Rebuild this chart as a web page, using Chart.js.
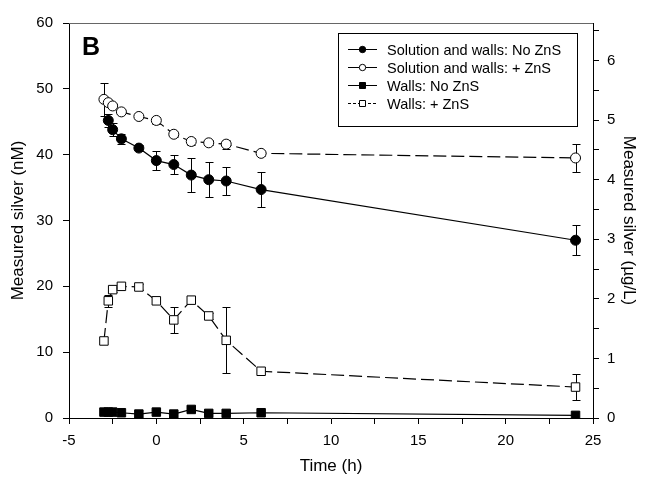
<!DOCTYPE html>
<html><head><meta charset="utf-8">
<script src="https://cdn.jsdelivr.net/npm/chart.js@4.4.1/dist/chart.umd.min.js"></script>
<style>html,body{margin:0;padding:0;background:#fff}#wrap{width:645px;height:483px}</style>
</head><body><div id="wrap"><canvas id="c" width="645" height="483"></canvas></div>
<script>
// ---- data ----
const seriesLabels = ['Solution and walls: No ZnS', 'Solution and walls: + ZnS', 'Walls: No ZnS', 'Walls: + ZnS'];

const timesSolNo = [-2.75, -2.5, -2, -1, 0, 1, 2, 3, 4, 6, 24];
const solNo      = [45.2, 43.8, 42.4, 41.0, 39.1, 38.5, 36.9, 36.2, 36.0, 34.7, 27.0];
const solNoErr   = [1.0, 1.0, 0.8, 0.5, 1.4, 1.5, 2.6, 2.7, 2.2, 2.7, 2.3];

const timesSolZnS = [-3, -2.75, -2.5, -2, -1, 0, 1, 2, 3, 4, 6, 24];
const solZnS      = [48.4, 47.9, 47.4, 46.5, 45.8, 45.2, 43.1, 42.0, 41.8, 41.6, 40.2, 39.5];
const solZnSErr   = [2.5, 0.4, 0.3, 0.3, 0.3, 0.5, 0.4, 0.6, 0.4, 0.7, 0.4, 2.1];

const timesWallsNo = [-3, -2.75, -2.5, -2, -1, 0, 1, 2, 3, 4, 6, 24];
const wallsNo      = [0.9, 0.9, 0.9, 0.8, 0.6, 0.9, 0.6, 1.3, 0.7, 0.7, 0.8, 0.4];

const timesWallsZnS = [-3, -2.75, -2.5, -2, -1, 0, 1, 2, 3, 4, 6, 24];
const wallsZnS      = [11.7, 17.8, 19.5, 20.0, 19.9, 17.8, 14.9, 17.9, 15.5, 11.8, 7.1, 4.7];
const wallsZnSErr   = [0, 0.9, 0.3, 0.2, 0.4, 0, 2.0, 0, 0.5, 5.0, 0, 2.0];

const xTicksMajor = [-5, 0, 5, 10, 15, 20, 25];
const yLeftTicks = [0, 10, 20, 30, 40, 50, 60];
const yRightTicks = [0, 1, 2, 3, 4, 5, 6];
const panelLetter = 'B';

// ---- helpers ----
const FONT = "'Liberation Sans', Arial, Helvetica, sans-serif";
const pts = (xs, ys) => xs.map((x, i) => ({x: x, y: ys[i]}));

const errorBars = {
  id: 'errorBars',
  beforeDatasetsDraw(chart) {
    const ctx = chart.ctx;
    const ys = chart.scales.y;
    ctx.save();
    ctx.strokeStyle = '#000';
    ctx.lineWidth = 1;
    chart.data.datasets.forEach((ds, di) => {
      if (!ds.errors) return;
      const meta = chart.getDatasetMeta(di);
      meta.data.forEach((el, i) => {
        const e = ds.errors[i];
        if (!e) return;
        const v = ds.data[i].y;
        const x = Math.round(el.x) + 0.5;
        const yt = Math.round(ys.getPixelForValue(v + e)) + 0.5;
        const yb = Math.round(ys.getPixelForValue(v - e)) + 0.5;
        ctx.beginPath();
        ctx.moveTo(x, yt); ctx.lineTo(x, yb);
        ctx.moveTo(x - 4, yt); ctx.lineTo(x + 4, yt);
        ctx.moveTo(x - 4, yb); ctx.lineTo(x + 4, yb);
        ctx.stroke();
      });
    });
    ctx.restore();
  }
};

const frameAndLegend = {
  id: 'frameAndLegend',
  afterDraw(chart) {
    const ctx = chart.ctx;
    const a = chart.chartArea;
    ctx.save();
    // top frame line
    ctx.strokeStyle = '#666';
    ctx.lineWidth = 1;
    ctx.beginPath();
    ctx.moveTo(a.left, Math.round(a.top) + 0.5); ctx.lineTo(a.right, Math.round(a.top) + 0.5);
    ctx.stroke();
    // panel letter
    ctx.fillStyle = '#000';
    ctx.font = "bold 25px " + FONT;
    ctx.textBaseline = 'middle';
    ctx.textAlign = 'left';
    ctx.fillText(panelLetter, 82, 48);
    // legend
    const bx = 338, by = 33, bw = 239, bh = 93;
    ctx.strokeStyle = '#000';
    ctx.lineWidth = 1;
    ctx.strokeRect(bx + 0.5, by + 0.5, bw, bh);
    ctx.font = "14.5px " + FONT;
    const rowY = [49.5, 67.5, 85.5, 103.5];
    chart.data.datasets.forEach((ds, i) => {
      const y = rowY[i];
      ctx.strokeStyle = '#000';
      ctx.lineWidth = 1;
      ctx.setLineDash(i === 3 ? [3, 2] : []);
      ctx.beginPath();
      ctx.moveTo(348, y); ctx.lineTo(377, y);
      ctx.stroke();
      ctx.setLineDash([]);
      ctx.fillStyle = ds.pointBackgroundColor;
      ctx.beginPath();
      if (ds.pointStyle === 'circle') {
        ctx.arc(362.5, y, 3.2, 0, Math.PI * 2);
      } else {
        ctx.rect(359.5, y - 3, 6, 6);
      }
      ctx.fill();
      ctx.stroke();
      ctx.fillStyle = '#000';
      ctx.fillText(ds.label, 387, y + 1);
    });
    ctx.restore();
  }
};

const tickFont = {family: FONT, size: 15};
const titleFont = {family: FONT, size: 17};

new Chart(document.getElementById('c'), {
  type: 'scatter',
  data: {
    datasets: [
      {label: seriesLabels[0], data: pts(timesSolNo, solNo), errors: solNoErr,
       showLine: true, borderColor: '#000', borderWidth: 1.2, pointStyle: 'circle', pointRadius: 5,
       pointBackgroundColor: '#000', pointBorderColor: '#000', pointBorderWidth: 1},
      {label: seriesLabels[1], data: pts(timesSolZnS, solZnS), errors: solZnSErr,
       showLine: true, borderColor: '#000', borderWidth: 1.2, borderDash: [13, 5], pointStyle: 'circle', pointRadius: 5,
       pointBackgroundColor: '#fff', pointBorderColor: '#000', pointBorderWidth: 1},
      {label: seriesLabels[2], data: pts(timesWallsNo, wallsNo),
       showLine: true, borderColor: '#000', borderWidth: 1.2, pointStyle: 'rect', pointRadius: 6,
       pointBackgroundColor: '#000', pointBorderColor: '#000', pointBorderWidth: 1},
      {label: seriesLabels[3], data: pts(timesWallsZnS, wallsZnS), errors: wallsZnSErr,
       showLine: true, borderColor: '#000', borderWidth: 1.2, borderDash: [13, 5], pointStyle: 'rect', pointRadius: 6,
       pointBackgroundColor: '#fff', pointBorderColor: '#000', pointBorderWidth: 1}
    ]
  },
  options: {
    responsive: false,
    animation: false,
    devicePixelRatio: 1,
    layout: {padding: {top: 23, left: 0, right: 0, bottom: 0}},
    plugins: {legend: {display: false}, tooltip: {enabled: false}},
    scales: {
      x: {
        type: 'linear', min: -5, max: 25,
        afterBuildTicks(s) {
          const t = [];
          for (let v = -5; v <= 25; v += 2.5) t.push({value: v});
          s.ticks = t;
        },
        ticks: {color: '#000', font: tickFont, padding: 8, maxRotation: 0, autoSkip: false,
          callback: v => xTicksMajor.includes(v) ? String(v) : ''},
        grid: {drawOnChartArea: false, drawTicks: true, tickLength: 6, tickColor: '#000'},
        border: {display: true, color: '#000', width: 1},
        title: {display: true, text: 'Time (h)', color: '#000', font: titleFont, padding: {top: 0, bottom: 6}},
        afterFit(s) { s.height = 65; }
      },
      y: {
        type: 'linear', position: 'left', min: 0, max: 60,
        afterBuildTicks(s) { s.ticks = yLeftTicks.map(v => ({value: v})); },
        ticks: {color: '#000', font: tickFont, padding: 10},
        grid: {drawOnChartArea: false, drawTicks: true, tickLength: 6, tickColor: '#000'},
        border: {display: true, color: '#000', width: 1},
        title: {display: true, text: 'Measured silver (nM)', color: '#000', font: titleFont, padding: {top: 8, bottom: 0}},
        afterFit(s) { s.width = 69; }
      },
      y1: {
        type: 'linear', position: 'right', min: 0, max: 6.63,
        afterBuildTicks(s) {
          const t = [];
          for (let v = 0; v <= 6.5; v += 0.5) t.push({value: v});
          s.ticks = t;
        },
        ticks: {color: '#000', font: tickFont, padding: 8,
          callback: v => yRightTicks.includes(v) ? String(v) : ''},
        grid: {drawOnChartArea: false, drawTicks: true, tickLength: 6, tickColor: '#000'},
        border: {display: true, color: '#000', width: 1},
        title: {display: true, text: 'Measured silver (µg/L)', color: '#000', font: titleFont, padding: {top: 6, bottom: 0}},
        afterFit(s) { s.width = 52; }
      }
    }
  },
  plugins: [errorBars, frameAndLegend]
});
</script>
</body></html>
